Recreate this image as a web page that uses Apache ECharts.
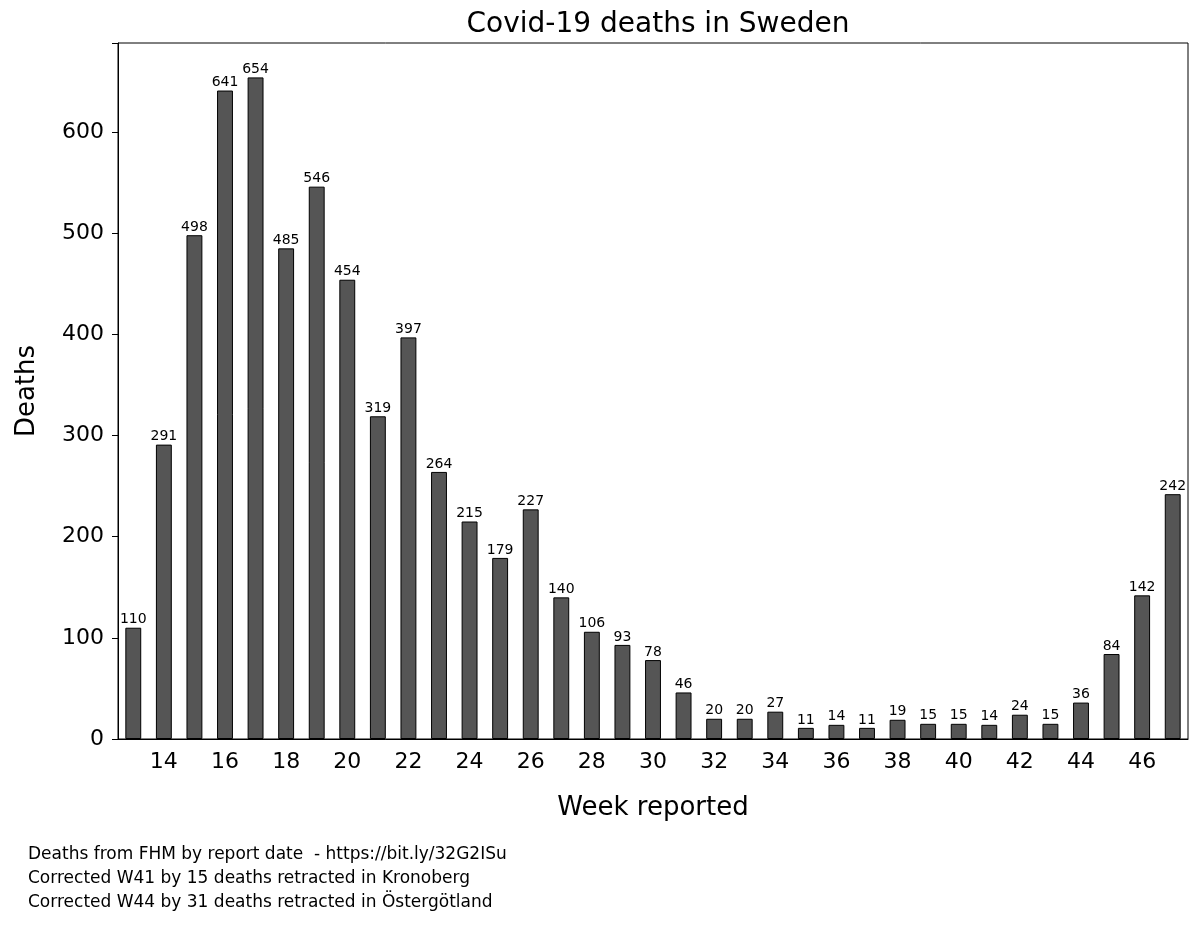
<!DOCTYPE html>
<html>
<head>
<meta charset="utf-8">
<script src="https://cdn.jsdelivr.net/npm/echarts@6/dist/echarts.min.js"></script>
<style>
  body { margin: 0; background: #fff; }
  #chart { width: 1200px; height: 925px; }
</style>
</head>
<body>
<div id="chart"></div>
<script>
// weeks reported and deaths per week
const weeks = [13, 14, 15, 16, 17, 18, 19, 20, 21, 22, 23, 24, 25, 26, 27, 28, 29, 30,
    31, 32, 33, 34, 35, 36, 37, 38, 39, 40, 41, 42, 43, 44, 45, 46, 47];
const deaths = [110, 291, 498, 641, 654, 485, 546, 454, 319, 397, 264, 215, 179, 227, 140, 106, 93, 78,
    46, 20, 20, 27, 11, 14, 11, 19, 15, 15, 14, 24, 15, 36, 84, 142, 242];
const notes = [
    'Deaths from FHM by report date  - https://bit.ly/32G2ISu',
    'Corrected W41 by 15 deaths retracted in Kronoberg',
    'Corrected W44 by 31 deaths retracted in Östergötland'
];

const font = 'DejaVu Sans';
const chart = echarts.init(document.getElementById('chart'));

const option = {
    backgroundColor: '#fff',
    animation: false,
    textStyle: { fontFamily: font, color: '#000' },
    title: {
        text: 'Covid-19 deaths in Sweden',
        left: 653, top: 6, textAlign: 'center',
        textStyle: { fontFamily: font, fontSize: 28, fontWeight: 'normal', color: '#000' }
    },
    graphic: notes.map(function (t, i) {
        return {
            type: 'text', left: 28, top: 846 + i * 24,
            style: { text: t, fontFamily: font, fontSize: 17, fill: '#000' }
        };
    }),
    grid: {
        left: 118, right: 12, top: 43, bottom: 186,
        show: true, borderColor: '#000', borderWidth: 1
    },
    xAxis: {
        type: 'category',
        data: weeks,
        name: 'Week reported',
        nameLocation: 'middle',
        nameGap: 56,
        nameTextStyle: { fontSize: 26, color: '#000' },
        axisLine: { lineStyle: { color: '#000' } },
        axisTick: { alignWithLabel: true, interval: 0, length: 6, lineStyle: { color: '#000' } },
        axisLabel: {
            fontSize: 22, color: '#000', margin: 12,
            interval: function (i, v) { return Number(v) % 2 === 0; }
        }
    },
    yAxis: {
        type: 'value',
        min: 0, max: 688, interval: 100,
        name: 'Deaths',
        nameLocation: 'middle',
        nameGap: 78,
        nameTextStyle: { fontSize: 26, color: '#000' },
        splitLine: { show: false },
        axisLine: { show: true, lineStyle: { color: '#000' } },
        axisTick: { show: true, length: 6, lineStyle: { color: '#000' } },
        axisLabel: {
            fontSize: 22, color: '#000', margin: 14,
            formatter: function (v) { return v % 100 === 0 ? v : ''; }
        }
    },
    series: [{
        type: 'bar',
        data: deaths,
        barWidth: '52%',
        itemStyle: { color: '#555555', borderColor: '#000', borderWidth: 1 },
        label: {
            show: true, position: 'top', distance: 1,
            fontSize: 14, color: '#000', fontFamily: font
        }
    }]
};

chart.setOption(option);
</script>
</body>
</html>
